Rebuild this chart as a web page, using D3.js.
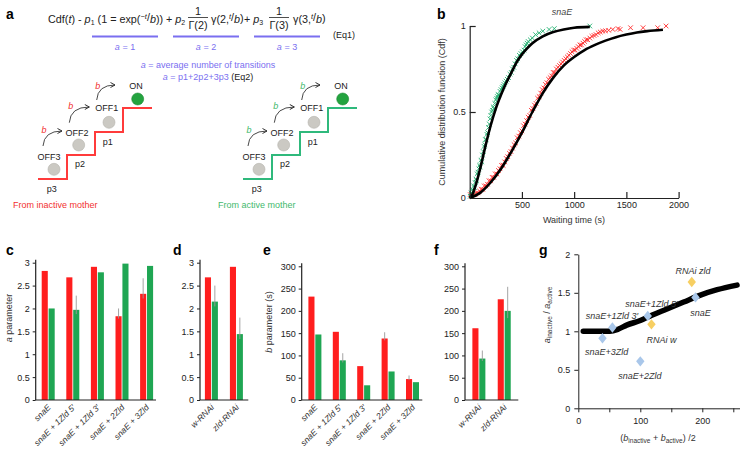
<!DOCTYPE html>
<html><head><meta charset="utf-8">
<script src="https://cdn.jsdelivr.net/npm/d3@7"></script>
<style>
body{margin:0;background:#fff;}
svg{font-family:"Liberation Sans",Arial,Helvetica,sans-serif;}
</style></head><body>
<svg id="fig" width="743" height="452"></svg>
<script>
// ---------- DATA ----------
// panel b: waiting time CDF (snaE)
const greenFit = [[0,0],[25,0.02],[50,0.06],[100,0.17],[150,0.30],[200,0.42],[250,0.52],[300,0.60],[350,0.67],[400,0.73],[450,0.79],[500,0.835],[550,0.87],[600,0.9],[700,0.94],[800,0.965],[900,0.98],[1000,0.99],[1150,0.995]];
const redFit = [[0,0],[100,0.03],[200,0.09],[300,0.17],[400,0.27],[500,0.38],[600,0.50],[700,0.61],[800,0.70],[900,0.77],[1000,0.82],[1100,0.86],[1200,0.89],[1300,0.915],[1400,0.935],[1500,0.95],[1600,0.962],[1700,0.97],[1850,0.978]];
const greenPts = [[5,0.01],[12,0.03],[18,0.02],[25,0.05],[30,0.04],[38,0.07],[45,0.06],[52,0.09],[60,0.11],[66,0.10],[72,0.14],[80,0.15],[88,0.17],[95,0.19],[100,0.18],[108,0.22],[115,0.21],[122,0.25],[130,0.27],[138,0.30],[145,0.31],[150,0.34],[158,0.34],[165,0.37],[172,0.38],[180,0.41],[188,0.43],[195,0.46],[202,0.48],[210,0.50],[218,0.51],[225,0.53],[232,0.52],[240,0.55],[250,0.57],[258,0.58],[265,0.59],[272,0.60],[280,0.60],[290,0.62],[300,0.63],[310,0.64],[318,0.65],[328,0.66],[338,0.67],[348,0.68],[360,0.69],[372,0.70],[385,0.72],[398,0.73],[410,0.75],[422,0.76],[435,0.78],[448,0.80],[460,0.81],[475,0.83],[490,0.84],[505,0.85],[520,0.86],[530,0.88],[540,0.89],[550,0.90],[560,0.91],[580,0.92],[600,0.93],[630,0.95],[665,0.96],[700,0.97],[760,0.98],[810,0.985],[1150,1.0]];
const redPts = [[5,0.02],[20,0.01],[35,0.02],[50,0.02],[65,0.03],[80,0.03],[95,0.04],[110,0.05],[125,0.05],[140,0.07],[155,0.07],[170,0.08],[185,0.10],[200,0.10],[215,0.12],[230,0.12],[245,0.14],[260,0.14],[275,0.16],[290,0.17],[305,0.19],[320,0.19],[335,0.21],[350,0.23],[365,0.24],[380,0.26],[395,0.27],[410,0.29],[425,0.31],[440,0.32],[455,0.35],[470,0.36],[485,0.38],[500,0.39],[515,0.42],[530,0.43],[545,0.45],[560,0.47],[575,0.48],[590,0.51],[605,0.52],[620,0.54],[635,0.55],[650,0.58],[665,0.59],[680,0.61],[695,0.63],[710,0.64],[725,0.66],[740,0.67],[755,0.69],[770,0.70],[785,0.71],[800,0.73],[815,0.73],[830,0.75],[845,0.76],[860,0.77],[875,0.78],[890,0.79],[905,0.80],[920,0.81],[935,0.82],[950,0.83],[965,0.84],[980,0.85],[995,0.86],[1010,0.86],[1025,0.87],[1040,0.88],[1055,0.89],[1070,0.89],[1085,0.90],[1100,0.91],[1115,0.92],[1130,0.92],[1150,0.93],[1170,0.94],[1190,0.945],[1210,0.95],[1230,0.96],[1250,0.965],[1275,0.97],[1300,0.972],[1330,0.975],[1370,0.98],[1420,0.985],[1440,0.98],[1540,0.99],[1660,0.99],[1800,0.99],[1880,1.0]];
const bXTicks = [500,1000,1500,2000];
const bYTicks = [0,0.5,1];

// panel c: a parameter
const catsC = ["snaE","snaE + 1Zld 5\u2032","snaE + 1Zld 3\u2032","snaE + 2Zld","snaE + 3Zld"];
const aInactiveC = [2.82,2.68,2.91,1.83,2.32];
const aActiveC = [2.0,1.97,2.79,2.98,2.93];
const aInactiveErrC = [0,0,0,0.17,0.34];
const aActiveErrC = [0,0.31,0,0,0];
// panel d
const catsD = ["w-RNAi","zld-RNAi"];
const aInactiveD = [2.68,2.91];
const aActiveD = [2.15,1.44];
const aInactiveErrD = [0,0];
const aActiveErrD = [0.35,0.36];
const aTicks = [0,0.5,1,1.5,2,2.5,3];
// panel e: b parameter
const bInactiveE = [232,153,76,138,47];
const bActiveE = [147,89,33,64,40];
const bInactiveErrE = [0,0,0,14,8];
const bActiveErrE = [0,16,0,0,0];
// panel f
const bInactiveF = [161,226];
const bActiveF = [93,200];
const bInactiveErrF = [0,0];
const bActiveErrF = [18,54];
const bTicks = [0,50,100,150,200,250,300];
// panel g
const gCurve = [[8,1.0],[30,1.0],[51,1.0],[65,1.03],[78,1.08],[100,1.14],[116,1.2],[143,1.29],[170,1.38],[197,1.47],[224,1.54],[256,1.6]];
const gNames = ["snaE+3Zld","snaE+1Zld 3\u2032","snaE+1Zld 5\u2032","snaE+2Zld","snaE","RNAi w","RNAi zld"];
const gB = [39,55,112,100,189,118,183];
const gRatio = [0.91,1.05,1.2,0.61,1.44,1.09,1.64];
const gType = ["snaE","snaE","snaE","snaE","snaE","RNAi","RNAi"];
const gLabelDx = [-17.6,-26.6,-22.6,-22,-5.3,-4.9,-16.3];
const gLabelDy = [13.8,-11.5,-12,14.7,15.6,15.6,-11];
const gXTicks = [0,50,100,150,200,250];
const gYTicks = [0,0.5,1,1.5,2];

// ---------- STYLE ----------
const RED = "#ff1e1e", GREEN = "#1fa653", PURPLE = "#7a6ff0";
const STAIR_GREEN = "#2fb97c", LABEL_GREEN = "#43b96d";
const svg = d3.select("#fig");
svg.append("rect").attr("width",743).attr("height",452).attr("fill","#fff");

function panelLetter(t,x,y){ svg.append("text").attr("x",x).attr("y",y).attr("font-size",14).attr("font-weight","bold").text(t); }
function styleAxis(a,w){
  a.attr("font-family",null).attr("font-size",null);
  a.selectAll("text").attr("font-size",9).attr("fill","#222");
  a.selectAll("line").attr("stroke","#222").attr("stroke-width",w||1);
  a.select(".domain").attr("stroke","#222").attr("stroke-width",w||1);
}

// ---------- PANEL a ----------
panelLetter("a",6,19);
const eq = svg.append("g").attr("font-size",10.8).attr("fill","#222");
function seg(x,y,parts,anchor){
  const t = eq.append("text").attr("x",x).attr("y",y).attr("text-anchor",anchor||"start");
  parts.forEach(p=>{
    const ts = t.append("tspan").text(p.t);
    if(p.i) ts.attr("font-style","italic");
    if(p.dy) ts.attr("dy",p.dy);
    if(p.fs) ts.attr("font-size",p.fs);
  });
  return t;
}
seg(48,23,[{t:"Cdf("},{t:"t",i:1},{t:") - "},{t:"p",i:1},{t:"1",fs:7,dy:2},{t:" (1 = exp(",dy:-2},{t:"\u2212t",i:1,fs:7.5,dy:-4},{t:"/",dy:2},{t:"b",i:1,dy:2},{t:"))",dy:0}]);
seg(166,23,[{t:"+ "},{t:"p",i:1},{t:"2",fs:7,dy:2}]);
seg(198,15,[{t:"1"}],"middle");
eq.append("line").attr("x1",188).attr("x2",208).attr("y1",17.5).attr("y2",17.5).attr("stroke","#222").attr("stroke-width",0.8);
seg(198,28.5,[{t:"\u0393(2)"}],"middle");
seg(211,23,[{t:"\u03b3(2,"},{t:"t",i:1,fs:7.5,dy:-4},{t:"/",dy:2},{t:"b",i:1,dy:2},{t:")",dy:-1}]);
seg(244,23,[{t:"+ "},{t:"p",i:1},{t:"3",fs:7,dy:2}]);
seg(279,15,[{t:"1"}],"middle");
eq.append("line").attr("x1",269).attr("x2",289).attr("y1",17.5).attr("y2",17.5).attr("stroke","#222").attr("stroke-width",0.8);
seg(279,28.5,[{t:"\u0393(3)"}],"middle");
seg(293,23,[{t:"\u03b3(3,"},{t:"t",i:1,fs:7.5,dy:-4},{t:"/",dy:2},{t:"b",i:1,dy:2},{t:")",dy:-1}]);
svg.append("text").attr("x",333).attr("y",38).attr("font-size",9).attr("fill","#222").text("(Eq1)");
[[92,158,"1"],[173,239,"2"],[254,320,"3"]].forEach(d=>{
  svg.append("line").attr("x1",d[0]).attr("x2",d[1]).attr("y1",36.5).attr("y2",36.5).attr("stroke",PURPLE).attr("stroke-width",2);
  const t = svg.append("text").attr("x",(d[0]+d[1])/2).attr("y",50).attr("text-anchor","middle").attr("font-size",9).attr("fill",PURPLE);
  t.append("tspan").attr("font-style","italic").text("a");
  t.append("tspan").text(" = "+d[2]);
});
{
  const t1 = svg.append("text").attr("x",208).attr("y",68).attr("text-anchor","middle").attr("font-size",9).attr("fill",PURPLE);
  t1.append("tspan").attr("font-style","italic").text("a");
  t1.append("tspan").text(" = average number of transitions");
  const t2 = svg.append("text").attr("x",208).attr("y",79.5).attr("text-anchor","middle").attr("font-size",9).attr("fill",PURPLE);
  t2.append("tspan").attr("font-style","italic").text("a");
  t2.append("tspan").text(" = p1+2p2+3p3 ");
  t2.append("tspan").attr("fill","#222").text("(Eq2)");
}
svg.append("defs").append("marker").attr("id","arr").attr("viewBox","0 0 6 6").attr("refX",5).attr("refY",3)
  .attr("markerWidth",6).attr("markerHeight",6).attr("orient","auto").attr("markerUnits","userSpaceOnUse")
  .append("path").attr("d","M0.5,0.5 L5,3 L0.5,5.5").attr("fill","none").attr("stroke","#333").attr("stroke-width",1);

function staircase(ox,oy,lineCol,bCol,caption){
  const g = svg.append("g").attr("transform",`translate(${ox},${oy})`);
  const pts = [[0,0],[29,0],[29,-24],[57,-24],[57,-47],[85,-47],[85,-71],[114,-71]];
  g.append("path").attr("d",d3.line()(pts)).attr("fill","none").attr("stroke",lineCol).attr("stroke-width",2);
  [[16,-9.7],[40.7,-34],[71,-56.7]].forEach(c=>g.append("circle").attr("cx",c[0]).attr("cy",c[1]).attr("r",6).attr("fill","#cbc9c3").attr("stroke","#b5b3ad").attr("stroke-width",0.6));
  g.append("circle").attr("cx",99.7).attr("cy",-80).attr("r",6).attr("fill","#23a33f").attr("stroke","#1b8a33").attr("stroke-width",0.6);
  const lab = [["OFF3",11,-22.3],["OFF2",39,-46.3],["OFF1",68.7,-70.7],["ON",98,-93],["p3",13.7,10],["p2",42,-15],["p1",69.7,-36.7]];
  lab.forEach(l=>g.append("text").attr("x",l[1]).attr("y",l[2]).attr("dy","0.35em").attr("text-anchor","middle").attr("font-size",9).attr("fill","#222").text(l[0]));
  [[6,-49],[32.7,-73.3],[59.7,-93]].forEach(b=>g.append("text").attr("x",b[0]).attr("y",b[1]).attr("dy","0.35em").attr("text-anchor","middle").attr("font-size",9).attr("font-style","italic").attr("fill",bCol).text("b"));
  [[5,-33,24,-48],[31.3,-56.3,51.3,-72],[58.7,-79,77,-94]].forEach(a=>g.append("path")
    .attr("d",`M${a[0]},${a[1]} Q${a[0]+1},${a[3]} ${a[2]},${a[3]}`).attr("fill","none").attr("stroke","#333").attr("stroke-width",0.9).attr("marker-end","url(#arr)"));
  g.append("text").attr("x",-25).attr("y",29).attr("font-size",9).attr("fill",bCol).text(caption);
}
staircase(38,179,"#ff3b3b","#f23030","From inactive mother");
staircase(243,179,STAIR_GREEN,LABEL_GREEN,"From active mother");

// ---------- PANEL b ----------
panelLetter("b",437,19);
{
  const x = d3.scaleLinear([0,2000],[469.7,678.6]);
  const y = d3.scaleLinear([0,1],[198,26]);
  const g = svg.append("g").attr("font-size",9);
  g.append("text").attr("x",562).attr("y",15).attr("text-anchor","middle").attr("font-style","italic").attr("font-size",9).attr("fill","#444").text("snaE");
  const cross = "M-2.3,-2.3L2.3,2.3M-2.3,2.3L2.3,-2.3";
  g.append("g").selectAll("path").data(redPts).join("path").attr("d",cross)
    .attr("transform",d=>`translate(${x(d[0])},${y(d[1])})`).attr("stroke","#ff2a2a").attr("stroke-width",0.9).attr("fill","none");
  g.append("g").selectAll("path").data(greenPts).join("path").attr("d",cross)
    .attr("transform",d=>`translate(${x(d[0])},${y(d[1])})`).attr("stroke","#22b070").attr("stroke-width",0.9).attr("fill","none");
  const line = d3.line().x(d=>x(d[0])).y(d=>y(d[1])).curve(d3.curveMonotoneX);
  g.append("path").attr("d",line(greenFit)).attr("fill","none").attr("stroke","#000").attr("stroke-width",2.6);
  g.append("path").attr("d",line(redFit)).attr("fill","none").attr("stroke","#000").attr("stroke-width",2.6);
  const ax = g.append("g").attr("transform","translate(0,198)")
    .call(d3.axisBottom(x).tickValues(bXTicks).tickFormat(d3.format("d")).tickSize(-6).tickSizeOuter(0).tickPadding(4));
  const ay = g.append("g").attr("transform","translate(469.7,0)")
    .call(d3.axisLeft(y).tickValues(bYTicks).tickFormat(d3.format("~g")).tickSize(-6).tickSizeOuter(0).tickPadding(4));
  styleAxis(ax,1.2); styleAxis(ay,1.2);
  ay.selectAll(".tick").filter(d=>d===0).select("line").remove();
  g.append("text").attr("x",574).attr("y",223).attr("text-anchor","middle").attr("fill","#333").attr("font-size",9).text("Waiting time (s)");
  g.append("text").attr("transform","translate(445,112) rotate(-90)").attr("text-anchor","middle").attr("fill","#333").attr("font-size",9).text("Cumulative distribution function (Cdf)");
}

// ---------- bar panels ----------
function barPanel(o){
  const g = svg.append("g");
  const x0 = d3.scaleBand(o.cats,o.xRange);
  const x1 = d3.scaleBand(["inactive","active"],[-6.6,6.4]).paddingInner(0.12);
  const y = o.y;
  const groups = o.cats.map((c,i)=>({c, vals:[
    {k:"inactive",v:o.inact[i],e:o.errI[i],col:RED},
    {k:"active",v:o.act[i],e:o.errA[i],col:GREEN}]}));
  const gg = g.selectAll("g.grp").data(groups).join("g").attr("class","grp")
    .attr("transform",d=>`translate(${x0(d.c)+x0.bandwidth()/2},0)`);
  gg.selectAll("rect").data(d=>d.vals).join("rect")
    .attr("x",d=>x1(d.k)).attr("width",x1.bandwidth())
    .attr("y",d=>y(d.v)).attr("height",d=>y(0)-y(d.v)).attr("fill",d=>d.col);
  gg.selectAll("line.err").data(d=>d.vals.filter(v=>v.e>0)).join("line").attr("class","err")
    .attr("x1",d=>x1(d.k)+x1.bandwidth()/2).attr("x2",d=>x1(d.k)+x1.bandwidth()/2)
    .attr("y1",d=>y(d.v-d.e*0.3)).attr("y2",d=>y(d.v+d.e)).attr("stroke","#9a9a9a").attr("stroke-width",0.9);
  const ay = g.append("g").attr("transform",`translate(${o.axisX0},0)`)
    .call(d3.axisLeft(y).tickValues(o.ticks).tickFormat(d3.format("~g")).tickSize(3).tickPadding(3));
  ay.select(".domain").remove();
  styleAxis(ay,1);
  g.append("line").attr("x1",o.axisX0).attr("x2",o.axisX0).attr("y1",y(0)).attr("y2",y(o.ticks[o.ticks.length-1])-3).attr("stroke","#222").attr("stroke-width",1.2);
  g.append("line").attr("x1",o.axisX0).attr("x2",o.axisX1).attr("y1",y(0)).attr("y2",y(0)).attr("stroke","#222").attr("stroke-width",1.2);
  g.selectAll("text.xl").data(o.cats).join("text").attr("class","xl")
    .attr("transform",d=>`translate(${x0(d)+x0.bandwidth()/2+3},${y(0)+8}) rotate(-45)`)
    .attr("text-anchor","end").attr("font-size",8.5).attr("font-style","italic").attr("fill","#333").text(d=>d);
  return g;
}
const yA = d3.scaleLinear([0,3],[400,262.7]);
const yB = d3.scaleLinear([0,300],[400,266.3]);
panelLetter("c",6,255);
barPanel({cats:catsC,inact:aInactiveC,act:aActiveC,errI:aInactiveErrC,errA:aActiveErrC,xRange:[36,159],y:yA,ticks:aTicks,axisX0:35.7,axisX1:156});
{
  const t = svg.append("text").attr("transform","translate(12,318) rotate(-90)").attr("text-anchor","middle").attr("font-size",9).attr("fill","#333");
  t.append("tspan").attr("font-style","italic").text("a");
  t.append("tspan").text(" parameter");
}
panelLetter("d",173,255);
barPanel({cats:catsD,inact:aInactiveD,act:aActiveD,errI:aInactiveErrD,errA:aActiveErrD,xRange:[199,249],y:yA,ticks:aTicks,axisX0:200,axisX1:248.3});
panelLetter("e",263,255);
barPanel({cats:catsC,inact:bInactiveE,act:bActiveE,errI:bInactiveErrE,errA:bActiveErrE,xRange:[302.8,424.8],y:yB,ticks:bTicks,axisX0:301.7,axisX1:422.3});
{
  const t = svg.append("text").attr("transform","translate(272,322) rotate(-90)").attr("text-anchor","middle").attr("font-size",9).attr("fill","#333");
  t.append("tspan").attr("font-style","italic").text("b");
  t.append("tspan").text(" parameter (s)");
}
panelLetter("f",434,255);
barPanel({cats:catsD,inact:bInactiveF,act:bActiveF,errI:bInactiveErrF,errA:bActiveErrF,xRange:[466.3,517],y:yB,ticks:bTicks,axisX0:465,axisX1:518.3});

// ---------- PANEL g ----------
panelLetter("g",539,255);
{
  const x = d3.scaleLinear([0,260],[578.3,739.5]);
  const y = d3.scaleLinear([0,2],[408.3,254.3]);
  const g = svg.append("g");
  const ay = g.append("g").attr("transform","translate(578.3,0)")
    .call(d3.axisLeft(y).tickValues(gYTicks).tickFormat(d3.format("~g")).tickSize(4).tickSizeOuter(0).tickPadding(4));
  const ax = g.append("g").attr("transform","translate(0,408.3)")
    .call(d3.axisBottom(x).tickValues(gXTicks).tickFormat(d=>d%100===0?d:"").tickSize(4).tickSizeOuter(0).tickPadding(5));
  styleAxis(ax,1); styleAxis(ay,1);
  const line = d3.line().x(d=>x(d[0])).y(d=>y(d[1])).curve(d3.curveMonotoneX);
  g.append("path").attr("d",line(gCurve)).attr("fill","none").attr("stroke","#000").attr("stroke-width",5.5).attr("stroke-linecap","round");
  const pts = gNames.map((n,i)=>({n,b:gB[i],r:gRatio[i],t:gType[i],dx:gLabelDx[i],dy:gLabelDy[i]}));
  g.selectAll("path.dia").data(pts).join("path").attr("class","dia")
    .attr("d","M0,-5.2L4.2,0L0,5.2L-4.2,0Z")
    .attr("transform",d=>`translate(${x(d.b)},${y(d.r)})`)
    .attr("fill",d=>d.t==="snaE"?"#a9c7ea":"#f7cf62");
  g.selectAll("text.pl").data(pts).join("text").attr("class","pl")
    .attr("x",d=>x(d.b)+d.dx).attr("y",d=>y(d.r)+d.dy).attr("dy","0.35em")
    .attr("font-size",9).attr("font-style","italic").attr("fill","#333").text(d=>d.n);
  const tx = g.append("text").attr("x",658).attr("y",441).attr("text-anchor","middle").attr("font-size",9).attr("fill","#333");
  tx.append("tspan").text("(");
  tx.append("tspan").attr("font-style","italic").text("b");
  tx.append("tspan").attr("font-size",6.5).attr("dy",2).text("inactive");
  tx.append("tspan").attr("dy",-2).text(" + ");
  tx.append("tspan").attr("font-style","italic").text("b");
  tx.append("tspan").attr("font-size",6.5).attr("dy",2).text("active");
  tx.append("tspan").attr("dy",-2).text(") /2");
  const ty = g.append("text").attr("transform","translate(550,315) rotate(-90)").attr("text-anchor","middle").attr("font-size",9).attr("fill","#333");
  ty.append("tspan").attr("font-style","italic").text("a");
  ty.append("tspan").attr("font-size",6.5).attr("dy",2).text("inactive");
  ty.append("tspan").attr("dy",-2).text(" / ");
  ty.append("tspan").attr("font-style","italic").text("a");
  ty.append("tspan").attr("font-size",6.5).attr("dy",2).text("active");
}
</script></body></html>
